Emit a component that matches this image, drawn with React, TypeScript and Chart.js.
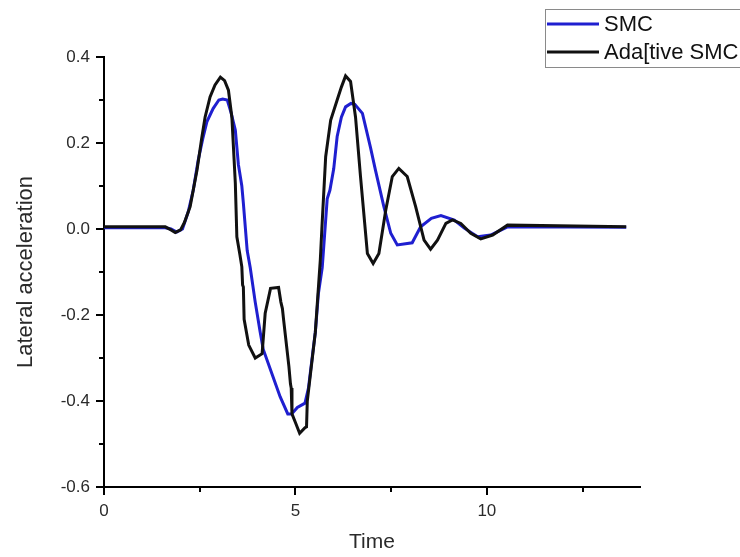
import React, { useEffect, useRef } from "react";
import { Chart, registerables } from "chart.js";

Chart.register(...registerables);

// ---- Data ----
const timeSMC = [
  0, 1.6, 1.75, 1.9, 2.05, 2.2, 2.33, 2.46, 2.58, 2.69, 2.85, 3.0, 3.1, 3.22, 3.32, 3.43, 3.51, 3.6,
  3.64, 3.74, 3.82, 3.95, 4.08, 4.16, 4.4, 4.6, 4.8, 4.9, 5.05, 5.25, 5.34, 5.45, 5.52, 5.6, 5.7,
  5.83, 5.9, 6.0, 6.09, 6.2, 6.31, 6.45, 6.55, 6.75, 6.96, 7.09, 7.31, 7.49, 7.66, 8.05, 8.27, 8.55,
  8.8, 9.15, 9.41, 9.76, 10.1, 10.54, 13.64,
];
const accSMC = [
  0.003, 0.003, 0.0, -0.007, 0.0, 0.04, 0.09, 0.16, 0.21, 0.25, 0.28, 0.3, 0.302, 0.3, 0.27, 0.23,
  0.15, 0.1, 0.06, -0.05, -0.09, -0.17, -0.24, -0.28, -0.34, -0.39, -0.43, -0.43, -0.415, -0.405,
  -0.37, -0.29, -0.24, -0.15, -0.09, 0.07, 0.09, 0.14, 0.215, 0.26, 0.284, 0.292, 0.29, 0.269, 0.19,
  0.137, 0.052, -0.01, -0.037, -0.032, 0.005, 0.025, 0.031, 0.021, 0.002, -0.018, -0.014, 0.005,
  0.004,
];

const timeAdaptive = [
  0, 1.6, 1.75, 1.86, 2.0, 2.1, 2.25, 2.43, 2.55, 2.64, 2.77, 2.9, 3.04, 3.15, 3.25, 3.34, 3.43,
  3.47, 3.55, 3.6, 3.62, 3.64, 3.66, 3.78, 3.95, 4.13, 4.21, 4.35, 4.56, 4.62, 4.66, 4.69, 4.83,
  4.87, 4.89, 4.91, 5.0, 5.11, 5.25, 5.29, 5.31, 5.52, 5.65, 5.69, 5.79, 5.92, 6.09, 6.2, 6.31, 6.44,
  6.57, 6.7, 6.88, 7.03, 7.18, 7.36, 7.53, 7.7, 7.92, 8.14, 8.36, 8.53, 8.71, 8.93, 9.1, 9.32, 9.58,
  9.84, 10.15, 10.54, 13.64,
];
const accAdaptive = [
  0.005, 0.005, -0.002, -0.008, -0.002, 0.015, 0.052, 0.137, 0.21, 0.26, 0.307, 0.335, 0.353, 0.345,
  0.323, 0.26, 0.107, -0.018, -0.06, -0.088, -0.13, -0.135, -0.21, -0.27, -0.3, -0.29, -0.196,
  -0.138, -0.136, -0.17, -0.185, -0.21, -0.32, -0.36, -0.37, -0.43, -0.45, -0.475, -0.462, -0.46,
  -0.4, -0.24, -0.072, 0.0, 0.168, 0.253, 0.3, 0.33, 0.356, 0.343, 0.26, 0.122, -0.057, -0.08,
  -0.057, 0.044, 0.122, 0.141, 0.122, 0.052, -0.026, -0.047, -0.026, 0.013, 0.021, 0.013, -0.01,
  -0.023, -0.014, 0.009, 0.005,
];

const seriesLabels = ["SMC", "Ada[tive SMC"];
const xTickValues = [0, 5, 10];
const xMinorTickValues = [2.5, 7.5, 12.5];
const yTickValues = [-0.6, -0.4, -0.2, 0.0, 0.2, 0.4];
const yMinorTickValues = [-0.5, -0.3, -0.1, 0.1, 0.3];
const xTitle = "Time";
const yTitle = "Lateral acceleration";

const FONT = "'Liberation Sans', Arial, sans-serif";
const BLUE = "#1f1fd0";
const BLACK = "#111111";

export default function App() {
  const ref = useRef<HTMLCanvasElement>(null);

  useEffect(() => {
    const canvas = ref.current;
    if (!canvas) return;

    const minorTicks = {
      id: "minorTicks",
      afterDraw(chart: any) {
        const { ctx } = chart;
        const x = chart.scales.x;
        const y = chart.scales.y;
        ctx.save();
        ctx.strokeStyle = "#000";
        ctx.lineWidth = 2;
        xMinorTickValues.forEach((v) => {
          const px = Math.round(x.getPixelForValue(v));
          ctx.beginPath();
          ctx.moveTo(px, y.bottom);
          ctx.lineTo(px, y.bottom + 5);
          ctx.stroke();
        });
        yMinorTickValues.forEach((v) => {
          const py = Math.round(y.getPixelForValue(v));
          ctx.beginPath();
          ctx.moveTo(x.left - 5, py);
          ctx.lineTo(x.left, py);
          ctx.stroke();
        });
        ctx.restore();
      },
    };

    const legendBox = {
      id: "legendBox",
      afterDraw(chart: any) {
        const { ctx } = chart;
        const ds = chart.data.datasets;
        ctx.save();
        ctx.strokeStyle = "#8a8a8a";
        ctx.lineWidth = 1;
        ctx.strokeRect(545.5, 9.5, 220, 58);
        ctx.font = `22px ${FONT}`;
        ctx.textBaseline = "middle";
        ctx.textAlign = "left";
        const rows = [24, 52];
        ds.forEach((d: any, i: number) => {
          ctx.strokeStyle = d.borderColor;
          ctx.lineWidth = 3;
          ctx.beginPath();
          ctx.moveTo(547, rows[i]);
          ctx.lineTo(599, rows[i]);
          ctx.stroke();
          ctx.fillStyle = "#111";
          ctx.fillText(d.label, 604, rows[i] + 1);
        });
        ctx.restore();
      },
    };

    const chart = new Chart(canvas, {
      type: "line",
      data: {
        datasets: [
          {
            label: seriesLabels[0],
            data: timeSMC.map((t, i) => ({ x: t, y: accSMC[i] })),
            borderColor: BLUE,
            backgroundColor: BLUE,
            borderWidth: 3,
            pointRadius: 0,
            tension: 0,
            order: 1,
          },
          {
            label: seriesLabels[1],
            data: timeAdaptive.map((t, i) => ({ x: t, y: accAdaptive[i] })),
            borderColor: BLACK,
            backgroundColor: BLACK,
            borderWidth: 3,
            pointRadius: 0,
            tension: 0,
            order: 0,
          },
        ],
      },
      options: {
        responsive: false,
        animation: false,
        layout: { padding: { top: 57, right: 100, left: 0, bottom: 0 } },
        plugins: {
          legend: { display: false },
          tooltip: { enabled: false },
        },
        scales: {
          x: {
            type: "linear",
            min: 0,
            max: 14,
            afterBuildTicks: (scale: any) => {
              scale.ticks = xTickValues.map((v) => ({ value: v }));
            },
            afterFit: (scale: any) => {
              scale.height = 70;
            },
            grid: {
              drawOnChartArea: false,
              drawTicks: true,
              tickLength: 8,
              color: "#000",
              lineWidth: 2,
            },
            border: { display: true, color: "#000", width: 2 },
            ticks: {
              padding: 6,
              color: "#2a2a2a",
              font: { family: FONT, size: 17 },
              maxRotation: 0,
              callback: (v: any) => String(v),
            },
            title: {
              display: true,
              text: xTitle,
              color: "#2a2a2a",
              font: { family: FONT, size: 21 },
              padding: { top: 0, bottom: 2 },
            },
          },
          y: {
            type: "linear",
            min: -0.6,
            max: 0.4,
            afterBuildTicks: (scale: any) => {
              scale.ticks = yTickValues.map((v) => ({ value: v }));
            },
            afterFit: (scale: any) => {
              scale.width = 104;
            },
            grid: {
              drawOnChartArea: false,
              drawTicks: true,
              tickLength: 8,
              color: "#000",
              lineWidth: 2,
            },
            border: { display: true, color: "#000", width: 2 },
            ticks: {
              padding: 6,
              color: "#2a2a2a",
              font: { family: FONT, size: 17 },
              callback: (v: any) => Number(v).toFixed(1),
            },
            title: {
              display: true,
              text: yTitle,
              color: "#2a2a2a",
              font: { family: FONT, size: 22 },
              padding: { top: 13, bottom: 0 },
            },
          },
        },
      },
      plugins: [minorTicks, legendBox],
    });

    return () => chart.destroy();
  }, []);

  return (
    <div style={{ position: "absolute", left: 0, top: 0, width: 740, height: 557, background: "#fff" }}>
      <canvas ref={ref} width={740} height={557} />
    </div>
  );
}
